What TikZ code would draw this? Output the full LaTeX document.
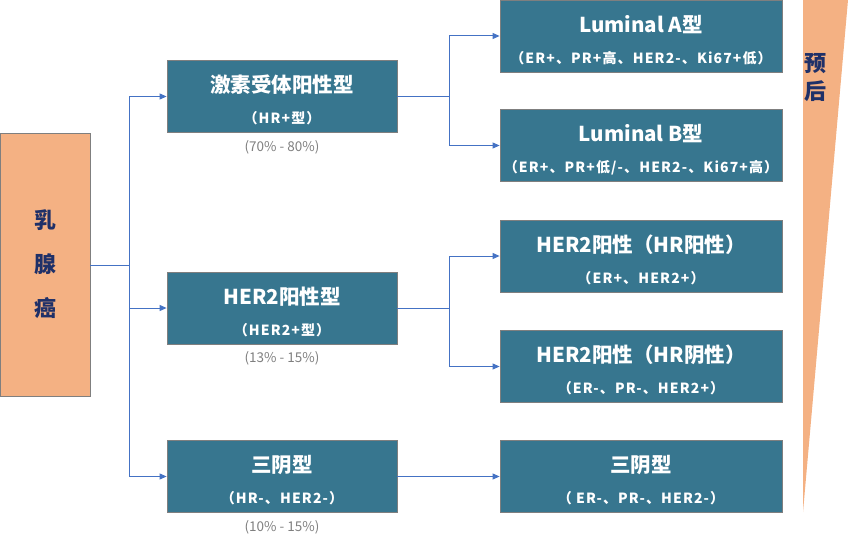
\documentclass[tikz,border=0pt]{standalone}
\usepackage{fontspec}
\newfontfamily\cjk{Noto Sans CJK SC}
\newfontfamily\cjkwide{Noto Sans CJK SC}[LetterSpace=8]
\usetikzlibrary{positioning,arrows.meta}

\definecolor{boxteal}{HTML}{37768F}
\definecolor{boxedge}{HTML}{7F7F7F}
\definecolor{wedge}{HTML}{F4B183}
\definecolor{navy}{HTML}{1F3068}
\definecolor{linkblue}{HTML}{4472C4}
\definecolor{pctgray}{HTML}{7F7F7F}

% title line and subtitle line of a subtype box
\newcommand{\subtype}[2]{{\fontsize{20.5}{31}\selectfont\rule{0pt}{25pt}#1}\\{\cjkwide\bfseries #2}}

\tikzset{
  typebox/.style={draw=boxedge, line width=0.8pt, fill=boxteal, text=white,
    font=\cjk\bfseries\fontsize{14}{31}\selectfont, align=center,
    minimum height=72pt, inner sep=0pt},
  midbox/.style={typebox, minimum width=230pt},
  endbox/.style={typebox, minimum width=282pt},
  pct/.style={text=pctgray, font=\cjk\fontsize{13.5}{15}\selectfont, inner sep=1pt},
  link/.style={draw=linkblue, line width=1pt},
  arrow/.style={link, -{Triangle[length=7pt,width=6pt]}}
}

\begin{document}
\begin{tikzpicture}[x=1pt, y=-1pt]
    \useasboundingbox (0,0) rectangle (848,543);

    % Prognosis wedge
    \fill[wedge] (803,0) -- (848,0) -- (803,512) -- cycle;
    \node[text=navy, font=\cjk\bfseries\fontsize{22}{28}\selectfont, align=center,
      inner sep=0pt] (prognosis) at (815,78) {预\\后};

    % Root
    \node[draw=boxedge, line width=0.8pt, fill=wedge, text=navy,
      font=\cjk\bfseries\fontsize{22}{44}\selectfont, align=center,
      minimum width=90pt, minimum height=263pt, inner sep=0pt]
      (cancer) at (45,264.5) {乳\\腺\\癌};

    % Main types
    \node[midbox] (hr) at (282,96.5) {\subtype{激素受体阳性型}{（HR+型）}};
    \node[midbox] (her2) at (282,308) {\subtype{HER2阳性型}{（HER2+型）}};
    \node[midbox] (tn) at (282,476.5) {\subtype{三阴型}{（HR-、HER2-）}};

    % Shares
    \node[pct, below=6pt of hr] (hrpct) {(70\% - 80\%)};
    \node[pct, below=6pt of her2] (her2pct) {(13\% - 15\%)};
    \node[pct, below=6pt of tn] (tnpct) {(10\% - 15\%)};

    % Subtypes
    \node[endbox] (luma) at (641,36) {\subtype{Luminal A型}{（ER+、PR+高、HER2-、Ki67+低）}};
    \node[endbox] (lumb) at (641,145.5) {\subtype{Luminal B型}{（ER+、PR+低/-、HER2-、Ki67+高）}};
    \node[endbox] (herpos) at (641,256) {\subtype{HER2阳性（HR阳性）}{（ER+、HER2+）}};
    \node[endbox] (herneg) at (641,366.5) {\subtype{HER2阳性（HR阴性）}{（ER-、PR-、HER2+）}};
    \node[endbox] (tnend) at (641,476.5) {\subtype{三阴型}{（ ER-、PR-、HER2-）}};

    % Branch points
    \coordinate (trunk) at (129,265);
    \coordinate (hrfork) at (449,96.5);
    \coordinate (her2fork) at (449,308);

    % Connectors
    \draw[link] (cancer.east |- trunk) -- (trunk);
    \draw[arrow] (trunk) |- (hr.west);
    \draw[arrow] (trunk) |- (her2.west);
    \draw[arrow] (trunk) |- (tn.west);

    \draw[link] (hr.east) -- (hrfork);
    \draw[arrow] (hrfork) |- (luma.west);
    \draw[arrow] (hrfork) |- (lumb.west);

    \draw[link] (her2.east) -- (her2fork);
    \draw[arrow] (her2fork) |- (herpos.west);
    \draw[arrow] (her2fork) |- (herneg.west);

    \draw[arrow] (tn.east) -- (tnend.west);
\end{tikzpicture}
\end{document}
